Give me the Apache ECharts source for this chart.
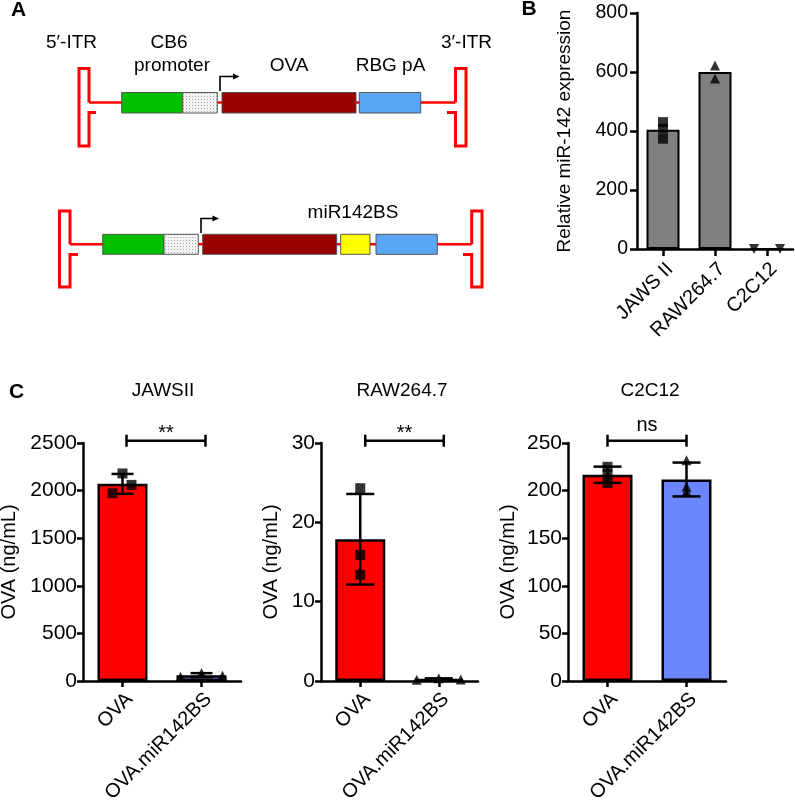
<!DOCTYPE html>
<html><head><meta charset="utf-8">
<script src="https://cdn.jsdelivr.net/npm/echarts@6/dist/echarts.min.js"></script>
<style>html,body{margin:0;padding:0;background:#fff}#c{width:795px;height:802px}</style>
</head><body><div id="c"></div>
<script>
// ---------------- data ----------------
const bCategories = ['JAWS II', 'RAW264.7', 'C2C12'];
const bJaws = [430, 408, 374];
const bRaw = [622, 578];
const bC2c12 = [0, 0];
const bTicks = [0, 200, 400, 600, 800];
const bAxisName = 'Relative miR-142 expression';

const cGroups = ['OVA', 'OVA.miR142BS'];
const cTitles = ['JAWSII', 'RAW264.7', 'C2C12'];
const cSignif = ['**', '**', 'ns'];
const cAxisName = 'OVA (ng/mL)';
const jawsOVA = [2180, 2060, 1972];
const jawsMiR = [45, 85, 55];
const rawOVA = [24.3, 15.9, 13.4];
const rawMiR = [0.15, 0.35, 0.2];
const c2c12OVA = [225, 217, 208];
const c2c12MiR = [232, 204, 199];
const jawsTicks = [0, 500, 1000, 1500, 2000, 2500];
const rawTicks = [0, 10, 20, 30];
const c2c12Ticks = [0, 50, 100, 150, 200, 250];

// ---------------- helpers ----------------
const FONT = '"Liberation Sans", Arial, Helvetica, sans-serif';
const mean = a => a.reduce((s, v) => s + v, 0) / a.length;
const sd = a => { const m = mean(a); return Math.sqrt(a.reduce((s, v) => s + (v - m) * (v - m), 0) / (a.length - 1)); };

function xAx(gi, cats, tickLen, margin, fs) {
  return {
    type: 'category', gridIndex: gi, data: cats, boundaryGap: true,
    axisLine: { show: true, lineStyle: { color: '#000', width: 2.5 } },
    axisTick: { show: true, alignWithLabel: true, length: tickLen, lineStyle: { color: '#000', width: 2.5 } },
    axisLabel: { show: true, interval: 0, rotate: 45, margin: margin, color: '#000', fontSize: fs, fontFamily: FONT,
      align: 'right', verticalAlign: 'top' },
    splitLine: { show: false }
  };
}
function yAx(gi, ticks, name, nameGap, tickLen, margin, fs, nfs) {
  return {
    type: 'value', gridIndex: gi, min: ticks[0], max: ticks[ticks.length - 1], interval: ticks[1] - ticks[0],
    name: name, nameLocation: 'middle', nameGap: nameGap, nameRotate: 90,
    nameTextStyle: { color: '#000', fontSize: nfs, fontFamily: FONT },
    axisLine: { show: true, lineStyle: { color: '#000', width: 2.5 } },
    axisTick: { show: true, length: tickLen, lineStyle: { color: '#000', width: 2.5 } },
    axisLabel: { color: '#000', fontSize: fs, fontFamily: FONT, margin: margin, formatter: v => String(v) },
    splitLine: { show: false }
  };
}
function errRender(hw) {
  return function (params, api) {
    const x = api.value(0), m = api.value(1), s = api.value(2);
    const t = api.coord([x, m + s]), b = api.coord([x, m - s]);
    const st = { stroke: '#000', lineWidth: 2.5 };
    return { type: 'group', children: [
      { type: 'line', shape: { x1: t[0], y1: t[1], x2: b[0], y2: b[1] }, style: st },
      { type: 'line', shape: { x1: t[0] - hw, y1: t[1], x2: t[0] + hw, y2: t[1] }, style: st },
      { type: 'line', shape: { x1: b[0] - hw, y1: b[1], x2: b[0] + hw, y2: b[1] }, style: st }
    ] };
  };
}
function bracketRender(label, dx) {
  return function (params, api) {
    const a = api.coord([0, api.value(1)]), b = api.coord([1, api.value(1)]);
    const y = a[1] - 2.3, x0 = a[0] + dx, x1 = b[0] + dx;
    const st = { stroke: '#000', lineWidth: 2.5 };
    const dy = label === 'ns' ? -15 : -7;
    return { type: 'group', children: [
      { type: 'line', shape: { x1: x0, y1: y, x2: x1, y2: y }, style: st },
      { type: 'line', shape: { x1: x0, y1: y - 6, x2: x0, y2: y + 6 }, style: st },
      { type: 'line', shape: { x1: x1, y1: y - 6, x2: x1, y2: y + 6 }, style: st },
      { type: 'text', style: { text: label, x: (x0 + x1) / 2, y: y + dy, fill: '#000', font: '20px ' + FONT,
        align: 'center', verticalAlign: 'middle' } }
    ] };
  };
}

// ---------------- grids / axes ----------------
const grids = [
  { left: 637, top: 13, width: 156, height: 236 },
  { left: 83, top: 443, width: 158, height: 238 },
  { left: 321, top: 443, width: 157, height: 238 },
  { left: 568, top: 443, width: 158, height: 238 }
].map(g => Object.assign({ containLabel: false, outerBoundsMode: 'none', show: false }, g));

const cTicks = [jawsTicks, rawTicks, c2c12Ticks];
const cNameGaps = [64, 40, 50];
const xAxes = [xAx(0, bCategories, 7, 10, 20)];
const yAxes = [yAx(0, bTicks, bAxisName, 63, 7, 9, 19.5, 19)];
for (let k = 0; k < 3; k++) {
  xAxes.push(xAx(k + 1, cGroups, 6, 8, 20));
  yAxes.push(yAx(k + 1, cTicks[k], cAxisName, cNameGaps[k], 6, 6, 21, 20));
}

// ---------------- series ----------------
const series = [];
const bGroups = [bJaws, bRaw, bC2c12];
series.push({ type: 'bar', xAxisIndex: 0, yAxisIndex: 0, barWidth: 33, data: bGroups.map(mean),
  itemStyle: { color: '#808080', borderColor: '#000', borderWidth: 2 }, z: 2 });
const bSym = [['rect', 0], ['triangle', 0], ['triangle', 180]];
const bOff = [[0, 0, 0], [0, 0], [-13, 13]];
const bPts = [];
bGroups.forEach((g, i) => g.forEach((v, j) => bPts.push({ value: [i, v], symbol: bSym[i][0], symbolRotate: bSym[i][1], symbolOffset: [bOff[i][j], 0] })));
series.push({ type: 'scatter', xAxisIndex: 0, yAxisIndex: 0, symbolSize: 10, itemStyle: { color: '#000' }, data: bPts, z: 5 });

const cData = [[jawsOVA, jawsMiR], [rawOVA, rawMiR], [c2c12OVA, c2c12MiR]];
const cOff = [[[0, 9, -10], [-21, 0, 21]], [[0, 0, 0], [-22, 0, 22]], [[0, 0, 0], [0, 0, 0]]];
const capHalf = [11, 14, 14];
const bracketDx = [4, 5, 0];
const barColors = ['#ff0000', '#6b85ff'];
const ptSym = ['rect', 'triangle'];
cData.forEach((pair, k) => {
  const gi = k + 1;
  series.push({ type: 'bar', xAxisIndex: gi, yAxisIndex: gi, barWidth: 50,
    data: pair.map((g, i) => ({ value: mean(g), itemStyle: { color: barColors[i] } })),
    itemStyle: { borderColor: '#000', borderWidth: 2.5 }, z: 2 });
  series.push({ type: 'custom', xAxisIndex: gi, yAxisIndex: gi, renderItem: errRender(capHalf[k]),
    data: pair.map((g, i) => [i, mean(g), sd(g)]), z: 4, clip: false });
  const pts = [];
  pair.forEach((g, i) => g.forEach((v, j) => pts.push({ value: [i, v], symbol: ptSym[i], symbolOffset: [cOff[k][i][j], 0] })));
  series.push({ type: 'scatter', xAxisIndex: gi, yAxisIndex: gi, symbolSize: 10, itemStyle: { color: '#000' }, data: pts, z: 5 });
  const t = cTicks[k];
  series.push({ type: 'custom', xAxisIndex: gi, yAxisIndex: gi, clip: false, z: 5,
    renderItem: bracketRender(cSignif[k], bracketDx[k]), data: [[0, t[t.length - 1]]] });
});

// ---------------- panel A schematic (graphic) ----------------
const pc = document.createElement('canvas');
pc.width = 3; pc.height = 3;
const px = pc.getContext('2d');
px.fillStyle = '#f2f2f2'; px.fillRect(0, 0, 3, 3);
px.fillStyle = '#a8a8a8'; px.fillRect(0, 0, 1, 1);
const dotted = { image: pc, repeat: 'repeat' };

const RED = '#ff0000';
function txt(text, x, y, bold, size) {
  return { type: 'text', style: { text: text, x: x, y: y, fill: '#000',
    font: (bold ? 'bold ' : '') + (size || 19) + 'px ' + FONT,
    align: 'center', verticalAlign: 'middle', textAlign: 'center', textVerticalAlign: 'middle' }, z: 10 };
}
function pline(points, color, w) {
  return { type: 'polyline', shape: { points: points }, style: { stroke: color, lineWidth: w, fill: null, lineJoin: 'miter' }, z: 5 };
}
function box(x1, x2, y, h, fill) {
  return { type: 'rect', shape: { x: x1, y: y, width: x2 - x1, height: h }, style: { fill: fill, stroke: '#555', lineWidth: 1 }, z: 6 };
}
function tri(pts) {
  return { type: 'polygon', shape: { points: pts }, style: { fill: '#000' }, z: 7 };
}
const graphics = [
  txt('A', 18.5, 10.5, true, 21), txt('B', 529, 9.5, true, 21), txt('C', 16.5, 392.5, true, 21),
  // top construct
  pline([[89, 102.5], [455.5, 102.5]], RED, 2.5),
  pline([[96, 112.5], [89, 112.5], [89, 146], [79, 146], [79, 68.5], [89, 68.5], [89, 102.5]], RED, 3),
  pline([[447, 112.5], [455.5, 112.5], [455.5, 146], [466, 146], [466, 68.5], [455.5, 68.5], [455.5, 102.5]], RED, 3),
  box(121.7, 182.7, 92.5, 20.5, '#00bf00'),
  box(182.7, 217.3, 92.5, 20.5, dotted),
  box(222, 356, 92.5, 20.5, '#990000'),
  box(359.3, 420.7, 92.5, 20.5, '#5aa5f5'),
  pline([[220, 91], [220, 76.5], [234, 76.5]], '#000', 1.6),
  tri([[233, 73.5], [239.5, 76.5], [233, 79.5]]),
  txt('5\u2032-ITR', 71.5, 43), txt('CB6', 169, 43), txt('promoter', 172, 66),
  txt('OVA', 289, 66), txt('RBG pA', 390.5, 66), txt('3\u2032-ITR', 466.5, 43),
  // bottom construct
  pline([[70, 244.3], [471.7, 244.3]], RED, 2.5),
  pline([[78, 254.5], [70, 254.5], [70, 287], [59.5, 287], [59.5, 211], [70, 211], [70, 244.3]], RED, 3),
  pline([[463, 254.5], [471.7, 254.5], [471.7, 287], [482, 287], [482, 211], [471.7, 211], [471.7, 244.3]], RED, 3),
  box(102.7, 164, 234.3, 20, '#00bf00'),
  box(164, 198.3, 234.3, 20, dotted),
  box(202.7, 336.7, 234.3, 20, '#990000'),
  box(340.7, 370, 234.3, 20, '#ffff00'),
  box(376, 437.3, 234.3, 20, '#5aa5f5'),
  pline([[201, 233], [201, 218.5], [213, 218.5]], '#000', 1.6),
  tri([[212.5, 215.5], [219, 218.5], [212.5, 221.5]]),
  txt('miR142BS', 353, 213),
  // panel C titles
  txt(cTitles[0], 163, 390.5), txt(cTitles[1], 402, 390.5), txt(cTitles[2], 650, 390.5)
];

const chart = echarts.init(document.getElementById('c'), null, { renderer: 'canvas' });
chart.setOption({
  animation: false,
  backgroundColor: '#fff',
  textStyle: { fontFamily: FONT },
  grid: grids,
  xAxis: xAxes,
  yAxis: yAxes,
  series: series,
  graphic: { elements: graphics }
});
</script>
</body></html>
